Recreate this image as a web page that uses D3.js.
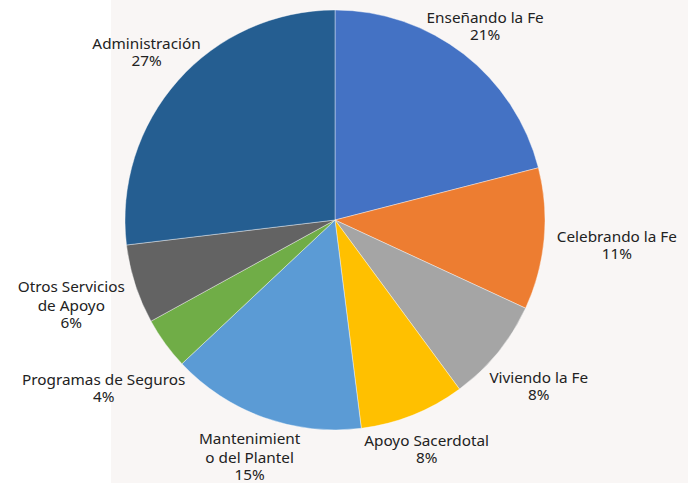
<!DOCTYPE html>
<html>
<head>
<meta charset="utf-8">
<script src="https://cdn.jsdelivr.net/npm/d3@7"></script>
<style>
  body { margin: 0; background: #fff; }
  svg text { font-family: "Noto Sans", sans-serif; font-size: 15.3px; fill: #222; }
</style>
</head>
<body>
<div id="chart"></div>
<script>
var WD = 688, HT = 483

// data
var categories = ["Enseñando la Fe", "Celebrando la Fe", "Viviendo la Fe", "Apoyo Sacerdotal",
                  "Mantenimiento del Plantel", "Programas de Seguros", "Otros Servicios de Apoyo", "Administración"]
var labelLines = [["Enseñando la Fe"], ["Celebrando la Fe"], ["Viviendo la Fe"], ["Apoyo Sacerdotal"],
                  ["Mantenimient", "o del Plantel"], ["Programas de Seguros"], ["Otros Servicios", "de Apoyo"], ["Administración"]]
var values = [21.0, 10.9, 8.0, 8.1, 15.0, 4.0, 6.1, 26.9]
var colors = ["#4472C4", "#ED7D31", "#A5A5A5", "#FFC000", "#5B9BD5", "#70AD47", "#636363", "#255E91"]
// distance of each label block centre from the pie centre
var labelDist = [245, 283, 263, 247, 252, 286, 277, 252]

var cx = 335, cy = 220, radius = 210

var svg = d3.select("#chart").append("svg")
    .attr("width", WD)
    .attr("height", HT)

svg.append("rect")
    .attr("x", 111).attr("y", 0)
    .attr("width", WD - 111).attr("height", HT)
    .attr("fill", "#f9f6f5")

var pie = d3.pie().sort(null).value(function(d){ return d; })
var arc = d3.arc().innerRadius(0).outerRadius(radius)
var total = d3.sum(values)

var g = svg.append("g").attr("transform", "translate(" + cx + "," + cy + ")")

var arcs = pie(values)

g.selectAll("path")
  .data(arcs)
  .enter().append("path")
    .attr("d", arc)
    .attr("fill", function(d, i){ return colors[i]; })
    .attr("stroke", "#ffffff")
    .attr("stroke-opacity", 0.5)
    .attr("stroke-width", 0.8)

// labels
var labels = g.selectAll("text.lbl")
  .data(arcs)
  .enter().append("text")
    .attr("class", "lbl")
    .attr("text-anchor", "middle")
    .attr("transform", function(d, i){
        var a = (d.startAngle + d.endAngle) / 2
        var x = Math.sin(a) * labelDist[i], y = -Math.cos(a) * labelDist[i]
        return "translate(" + x + "," + y + ")"
    })

labels.each(function(d, i){
    var t = d3.select(this)
    var lines = labelLines[i].slice()
    var pct = Math.round(values[i] / total * 100) + "%"
    var h = (lines.length - 1) * 19.5 + 17
    var y0 = -h / 2 + 5
    lines.forEach(function(l, j){
        t.append("tspan").attr("x", 0).attr("y", y0 + j * 19.5).text(l)
    })
    t.append("tspan").attr("x", 0).attr("y", y0 + (lines.length - 1) * 19.5 + 17).text(pct)
})
</script>
</body>
</html>
